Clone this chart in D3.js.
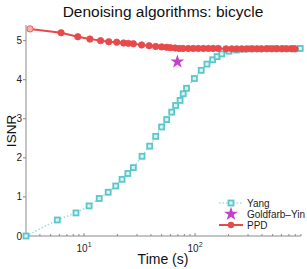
<!DOCTYPE html>
<html>
<head>
<meta charset="utf-8">
<script src="https://cdn.jsdelivr.net/npm/d3@7"></script>
<style>
  body { margin: 0; background: #fff; }
  text { font-family: "Liberation Sans", Arial, sans-serif; }
</style>
</head>
<body>
<div id="chart-area"></div>
<script>
// Yang (time in s, ISNR)
var yangTime = [3.0, 5.74, 8.46, 11.1, 13.7, 16.5, 19.3, 22.0, 24.8, 27.8, 33.3, 39.0, 44.2, 50.0, 55.5, 61.6, 66.8, 73.3, 78.2, 83.8, 98.5, 113.6, 128, 144, 158, 174, 202, 236, 275, 322, 380, 454, 535, 632, 750, 886]
var yangIsnr = [0, 0.41, 0.59, 0.77, 0.96, 1.12, 1.28, 1.45, 1.60, 1.75, 2.04, 2.30, 2.55, 2.79, 2.98, 3.17, 3.34, 3.47, 3.64, 3.78, 4.03, 4.24, 4.40, 4.51, 4.59, 4.66, 4.73, 4.76, 4.78, 4.79, 4.79, 4.80, 4.80, 4.80, 4.80, 4.80]
// PPD
var ppdTime = [3.26, 6.21, 8.78, 11.3, 14.1, 16.7, 19.7, 22.7, 25.1, 27.8, 33.0, 38.6, 44.2, 50.0, 55.5, 60, 66, 72, 78, 87, 96.6, 107, 119, 132, 146, 162, 190, 214, 237, 263, 292, 324, 359, 398, 442, 491, 544, 604, 670, 743, 795]
var ppdIsnr = [5.30, 5.20, 5.10, 5.04, 5.00, 4.97, 4.96, 4.94, 4.93, 4.92, 4.89, 4.87, 4.85, 4.84, 4.83, 4.82, 4.81, 4.80, 4.80, 4.80, 4.80, 4.80, 4.80, 4.80, 4.80, 4.80, 4.79, 4.79, 4.79, 4.79, 4.79, 4.79, 4.79, 4.79, 4.79, 4.79, 4.79, 4.79, 4.79, 4.79, 4.79]
// Goldfarb-Yin single result
var gyTime = [69.3]
var gyIsnr = [4.46]

var yTicks = [0, 1, 2, 3, 4, 5]
var xMajor = [10, 100]
var legendNames = ["Yang", "Goldfarb\u2013Yin", "PPD"]

var cYang = "#5cc6c8", cRed = "#e8494b", cMag = "#c53fcb"

var width = 307, height = 269
var margin = {top: 25, right: 6, bottom: 33, left: 26}

var svg = d3.select("#chart-area")
  .append("svg")
  .attr("width", width)
  .attr("height", height)

var x = d3.scaleLog().domain([3, 900]).range([margin.left, width - margin.right])
var y = d3.scaleLinear().domain([0, 5.4]).range([height - margin.bottom, margin.top])

var axisColor = "#8a8a8a"

// x axis
var xMinor = []
for (var dec = 1; dec <= 100; dec *= 10) {
  for (var k = 1; k < 10; k++) {
    var v = k * dec
    if (v >= 3 && v <= 900) xMinor.push(v)
  }
}
var gx = svg.append("g").attr("transform", `translate(0, ${y(0)})`)
gx.append("line").attr("x1", x(3)).attr("x2", x(900)).attr("stroke", axisColor)
gx.selectAll("line.minor").data(xMinor).enter().append("line")
  .attr("class", "minor")
  .attr("x1", d => x(d)).attr("x2", d => x(d))
  .attr("y1", 0).attr("y2", d => (xMajor.indexOf(d) >= 0 ? -3 : -2))
  .attr("stroke", axisColor)
var xl = gx.selectAll("text.major").data(xMajor).enter().append("text")
  .attr("class", "major")
  .attr("x", d => x(d)).attr("y", 16)
  .attr("text-anchor", "middle")
  .attr("font-size", "10px").attr("fill", "#222")
xl.append("tspan").text("10")
xl.append("tspan").attr("dy", -5).attr("font-size", "7px").text(d => Math.round(Math.log10(d)))

// y axis
var gy = svg.append("g").attr("transform", `translate(${x(3)}, 0)`)
gy.append("line").attr("y1", y(0)).attr("y2", y(5.4)).attr("stroke", axisColor)
gy.selectAll("line.tick").data(yTicks).enter().append("line")
  .attr("class", "tick")
  .attr("x1", -3).attr("x2", 0)
  .attr("y1", d => y(d)).attr("y2", d => y(d))
  .attr("stroke", axisColor)
gy.selectAll("text").data(yTicks).enter().append("text")
  .attr("x", -4).attr("y", d => y(d) + 3.5)
  .attr("text-anchor", "end")
  .attr("font-size", "10px").attr("fill", "#222")
  .text(d => d)

// titles
svg.append("text").attr("x", 163).attr("y", 17)
  .attr("text-anchor", "middle").attr("font-size", "15.5px").attr("fill", "#111")
  .text("Denoising algorithms: bicycle")
svg.append("text").attr("x", 163).attr("y", 264)
  .attr("text-anchor", "middle").attr("font-size", "14px").attr("fill", "#111")
  .text("Time (s)")
svg.append("text").attr("transform", "translate(16, 131) rotate(-90)")
  .attr("text-anchor", "middle").attr("font-size", "13.5px").attr("fill", "#111")
  .text("ISNR")

var squareMark = function(sel, cx, cy) {
  sel.append("rect")
    .attr("x", cx - 2.5).attr("y", cy - 2.5)
    .attr("width", 5).attr("height", 5)
    .attr("fill", "#d8f3f3").attr("stroke", cYang).attr("stroke-width", 1.8)
}
var star = d3.symbol().type(d3.symbolStar).size(60)

// Yang
var yangData = yangTime.map((t, i) => [t, yangIsnr[i]])
var line = d3.line().x(d => x(d[0])).y(d => y(d[1]))
svg.append("path").datum(yangData)
  .attr("d", line).attr("fill", "none")
  .attr("stroke", "#9fdede").attr("stroke-width", 1.5)
  .attr("stroke-dasharray", "1.5,2")
var gYang = svg.append("g")
yangData.forEach(d => squareMark(gYang, x(d[0]), y(d[1])))

// Goldfarb-Yin
svg.selectAll("path.gy").data(gyTime).enter().append("path")
  .attr("class", "gy")
  .attr("d", star)
  .attr("transform", (d, i) => `translate(${x(d)}, ${y(gyIsnr[i])})`)
  .attr("fill", cMag)

// PPD
var ppdData = ppdTime.map((t, i) => [t, ppdIsnr[i]])
svg.append("path").datum(ppdData)
  .attr("d", line).attr("fill", "none")
  .attr("stroke", cRed).attr("stroke-width", 2)
svg.selectAll("circle.ppd").data(ppdData).enter().append("circle")
  .attr("class", "ppd")
  .attr("cx", d => x(d[0])).attr("cy", d => y(d[1]))
  .attr("r", 3.2).attr("fill", cRed).attr("stroke", cRed).attr("stroke-width", 0.8)
svg.select("circle.ppd").attr("fill", "#f6b0b0")

// legend
var lg = svg.append("g")
var ly = [203, 214, 225]
lg.append("line").attr("x1", 219).attr("x2", 243).attr("y1", ly[0]).attr("y2", ly[0])
  .attr("stroke", "#9fdede").attr("stroke-width", 1.5).attr("stroke-dasharray", "1.5,2")
squareMark(lg, 231, ly[0])
lg.append("path").attr("d", star).attr("transform", `translate(231, ${ly[1]})`).attr("fill", cMag)
lg.append("line").attr("x1", 219).attr("x2", 243).attr("y1", ly[2]).attr("y2", ly[2])
  .attr("stroke", cRed).attr("stroke-width", 2)
lg.append("circle").attr("cx", 231).attr("cy", ly[2]).attr("r", 3.2).attr("fill", cRed)
lg.selectAll("text").data(legendNames).enter().append("text")
  .attr("x", 247).attr("y", (d, i) => ly[i] + 3.5)
  .attr("font-size", "10px").attr("fill", "#222")
  .text(d => d)
</script>
</body>
</html>
